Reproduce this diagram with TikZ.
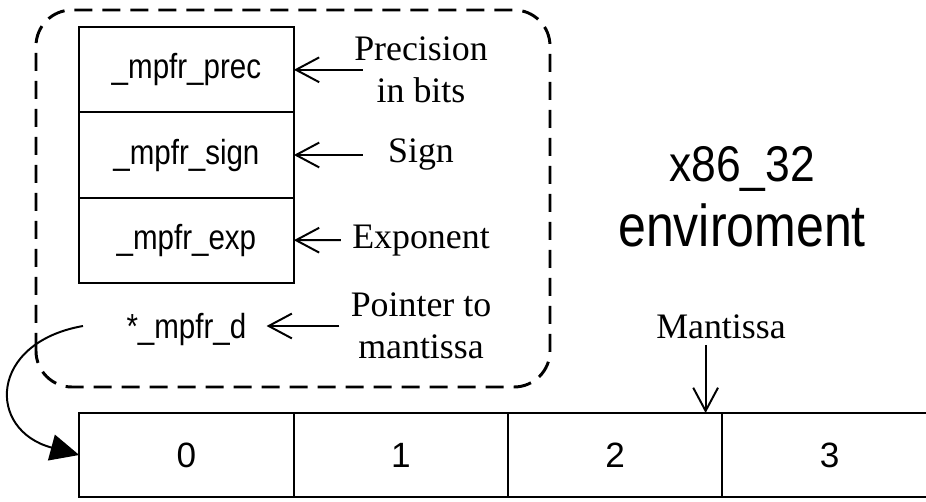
\documentclass[tikz,border=0pt]{standalone}
\usepackage{fontspec}
\setmainfont{Liberation Serif}
\setsansfont{Liberation Sans}
\usetikzlibrary{arrows.meta,positioning}

\newcommand{\tallsf}[2][1.18]{\scalebox{1}[#1]{#2}}

\begin{document}
\begin{tikzpicture}[
  field/.style={draw, line width=1.4pt, minimum width=5.375cm, minimum height=2.13cm,
    inner sep=0pt, outer sep=0pt, font=\sffamily\fontsize{21}{26}\selectfont},
  word/.style={field, minimum width=5.36cm, minimum height=2.1cm, font=\sffamily\fontsize{25}{30}\selectfont},
  lbl/.style={align=center, inner ysep=4pt, inner xsep=8pt, font=\fontsize{25.5}{30}\selectfont},
  ptr/.style={-{Straight Barb[length=0.58cm,width=0.62cm]}, line width=1.4pt},
]
\useasboundingbox (0,0) rectangle (23.15,12.525);

\draw[line width=2.1pt, dash pattern=on 0.45cm off 0.25cm, rounded corners=0.9cm] (0.9,2.85) rectangle (13.75,12.275);

\node[field] (prec) at (4.66,10.78) {\tallsf{\_mpfr\_prec}};
\node[field, below=0pt of prec] (sign) {\tallsf{\_mpfr\_sign}};
\node[field, below=0pt of sign] (exp) {\tallsf{\_mpfr\_exp}};
\node[font=\sffamily\fontsize{21}{26}\selectfont, inner xsep=0.5cm] (mpfrd) at (4.66,4.3) {\tallsf{*\_mpfr\_d}};

\node[lbl] (precl) at (10.525,10.78) {Precision\\in bits};
\node[lbl] (signl) at (10.525,8.65) {Sign};
\node[lbl] (expl) at (10.525,6.52) {Exponent};
\node[lbl] (ptrl) at (10.525,4.375) {Pointer to\\mantissa};

\draw[ptr] ([xshift=0.5cm]precl.west) -- (prec);
\draw[ptr] ([xshift=0.5cm]precl.west |- signl) -- (sign);
\draw[ptr] (expl) -- (exp);
\draw[ptr] (ptrl) -- (ptrl -| mpfrd.east);

\node[align=center, font=\sffamily\fontsize{35.6}{46}\selectfont] (env) at (18.55,7.61)
  {\tallsf[1.13]{\fontsize{31.6}{36}\selectfont x86\_32}\\\tallsf{enviroment}};

\node[word] (c0) at (4.66,1.15) {0};
\node[word, right=0pt of c0] (c1) {1};
\node[word, right=0pt of c1] (c2) {2};
\node[word, right=0pt of c2] (c3) {3};

\node[lbl] (mant) at (18.025,4.35) {Mantissa};
\coordinate (mtip) at ([xshift=-0.42cm]c2.north east);
\draw[ptr] (mant.south -| mtip) -- (mtip);

\draw[line width=1.4pt, -{Triangle[length=0.72cm,width=0.66cm]}] ([xshift=-0.58cm]mpfrd.west |- ptrl)
  to[out=190, in=165, looseness=1.9] (c0.west);
\end{tikzpicture}
\end{document}
